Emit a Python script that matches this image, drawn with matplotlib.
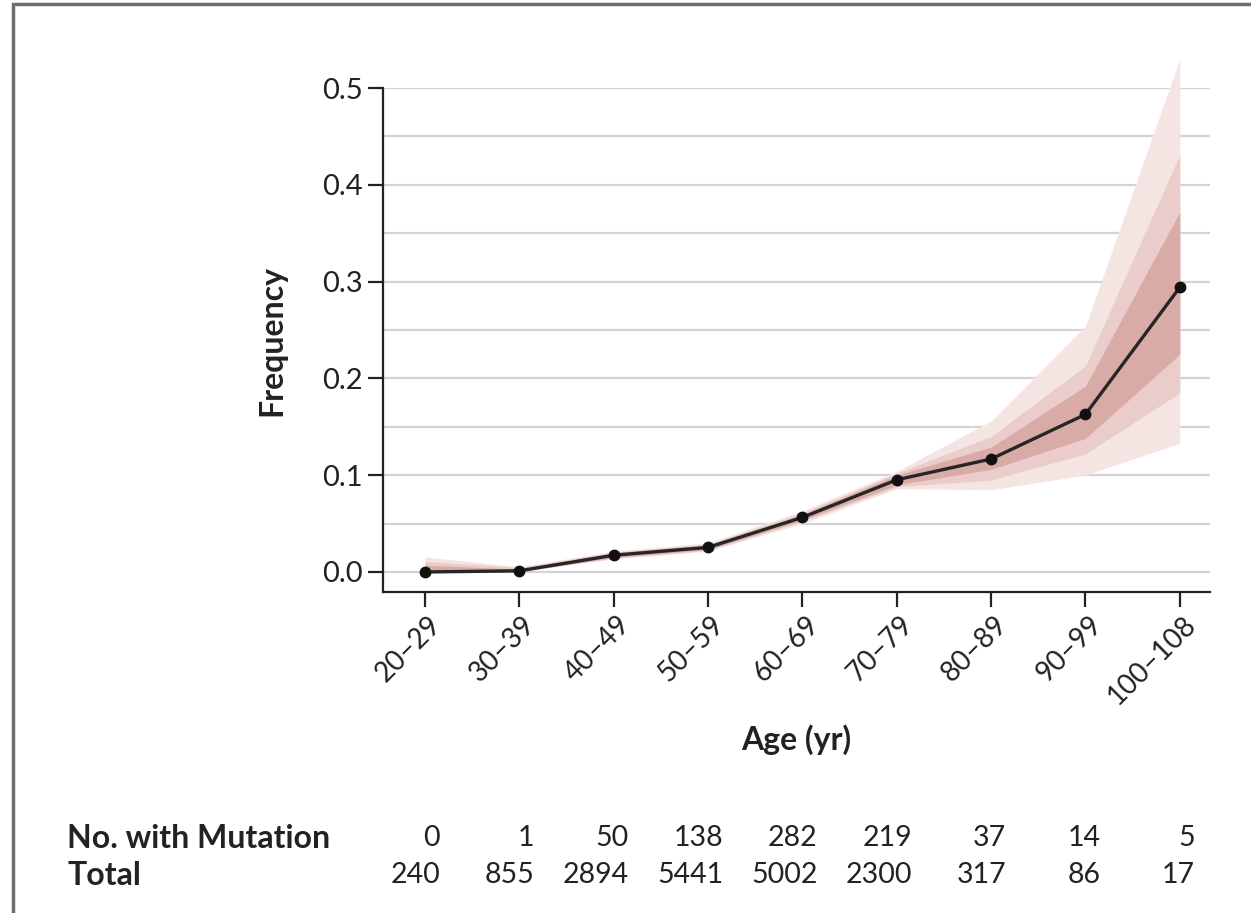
import matplotlib.pyplot as plt
import matplotlib.transforms as mtransforms
from matplotlib.patches import Rectangle

plt.rcParams['font.family'] = ['Lato', 'DejaVu Sans']

# data
age_groups = ['20–29', '30–39', '40–49', '50–59', '60–69', '70–79', '80–89', '90–99', '100–108']
n_mutation = [0, 1, 50, 138, 282, 219, 37, 14, 5]
n_total = [240, 855, 2894, 5441, 5002, 2300, 317, 86, 17]

# uncertainty bands (lower, upper)
outer_lo = [0.0, 0.0002, 0.0135, 0.0215, 0.050, 0.086, 0.085, 0.100, 0.133]
outer_hi = [0.0155, 0.0055, 0.0215, 0.030, 0.063, 0.104, 0.156, 0.254, 0.530]
mid_lo = [0.0, 0.0003, 0.0143, 0.0223, 0.052, 0.088, 0.095, 0.122, 0.185]
mid_hi = [0.011, 0.0045, 0.0205, 0.029, 0.061, 0.102, 0.140, 0.213, 0.431]
inner_lo = [0.0, 0.0005, 0.015, 0.0232, 0.0535, 0.090, 0.106, 0.138, 0.225]
inner_hi = [0.007, 0.003, 0.0197, 0.028, 0.0595, 0.100, 0.129, 0.192, 0.372]

freq = [m / t for m, t in zip(n_mutation, n_total)]
x = list(range(len(age_groups)))

fig = plt.figure(figsize=(12.51, 9.13), dpi=100)
ax = fig.add_axes([383 / 1251, 1 - 592 / 913, (1210 - 383) / 1251, (592 - 88) / 913])

# gridlines every 0.05
for g in [i * 0.05 for i in range(11)]:
    ax.axhline(g, color='#d3d3d7', linewidth=1.6, zorder=0)

# bands
ax.fill_between(x, outer_lo, outer_hi, color='#f4e5e3', linewidth=0, zorder=1, clip_on=False)
ax.fill_between(x, mid_lo, mid_hi, color='#eacdca', linewidth=0, zorder=2, clip_on=False)
ax.fill_between(x, inner_lo, inner_hi, color='#d9aba7', linewidth=0, zorder=3, clip_on=False)

ax.plot(x, freq, color='#262626', linewidth=2.4, marker='o', markersize=7.5,
        markerfacecolor='#111111', markeredgecolor='#111111', zorder=5, clip_on=False)

ax.set_xlim(-0.445, 8.32)
ax.set_ylim(-0.0207, 0.5)

for s in ['top', 'right']:
    ax.spines[s].set_visible(False)
for s in ['left', 'bottom']:
    ax.spines[s].set_linewidth(1.6)
    ax.spines[s].set_color('#222222')

ax.tick_params(axis='y', length=10.5, width=1.6, color='#222222', labelsize=21, pad=4, labelcolor='#222222')
ax.tick_params(axis='x', length=10.5, width=1.6, color='#222222', labelsize=20, pad=10, labelcolor='#222222')

ax.set_yticks([0.0, 0.1, 0.2, 0.3, 0.4, 0.5])
ax.set_yticklabels(['0.0', '0.1', '0.2', '0.3', '0.4', '0.5'])
ax.set_xticks(x)
ax.set_xticklabels(age_groups, rotation=45, ha='right', va='center', rotation_mode='anchor')

# nudge the rotated labels a bit to the right, like the original
shift = mtransforms.ScaledTranslation(12 / 100, 0, fig.dpi_scale_trans)
for lab in ax.get_xticklabels():
    lab.set_transform(lab.get_transform() + shift)

ax.set_ylabel('Frequency', fontsize=23, fontweight='bold', color='#222222')
ax.yaxis.set_label_coords((286 - 383) / 827, 0.5)
ax.set_xlabel('Age (yr)', fontsize=23, fontweight='bold', color='#222222')
ax.xaxis.set_label_coords(0.5, (592 - 724) / 504)

# count table below the axis
trans = mtransforms.blended_transform_factory(ax.transData, fig.transFigure)
y_mut = 1 - 838 / 913
y_tot = 1 - 875 / 913
fig.text(67 / 1251, y_mut, 'No. with Mutation', fontsize=23, fontweight='bold', color='#222222', va='center')
fig.text(67 / 1251, y_tot, 'Total', fontsize=23, fontweight='bold', color='#222222', va='center')
for i in x:
    ax.text(i + 0.16, y_mut, str(n_mutation[i]), transform=trans, ha='right', va='center',
            fontsize=20.5, color='#222222')
    ax.text(i + 0.16, y_tot, str(n_total[i]), transform=trans, ha='right', va='center',
            fontsize=20.5, color='#222222')

# frame around the figure
fig.patches.append(Rectangle((13 / 1251, -0.1), 1.2, 1 - 4 / 913 + 0.1, transform=fig.transFigure,
                             fill=False, edgecolor='#6e6e70', linewidth=2.5, figure=fig))

fig.savefig('out.png', dpi=100)
